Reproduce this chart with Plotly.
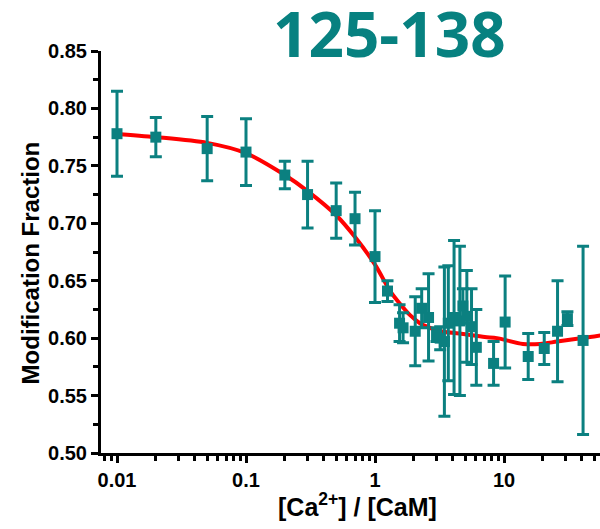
import plotly.graph_objects as go

# Data
ratio = [0.01, 0.02, 0.05, 0.1, 0.2, 0.3, 0.5, 0.7, 1.0, 1.25, 1.55, 1.65, 2.05, 2.3, 2.6,
         3.0, 3.2, 3.45, 3.7, 4.1, 4.55, 4.8, 5.15, 5.6, 6.1, 8.3, 10.2, 15.4, 20.5, 26, 31, 41]
frac = [0.778, 0.775, 0.765, 0.762, 0.742, 0.725, 0.711, 0.704, 0.671, 0.641, 0.613, 0.609,
        0.606, 0.626, 0.618, 0.603, 0.600, 0.597, 0.613, 0.618, 0.615, 0.628, 0.619, 0.610,
        0.592, 0.578, 0.614, 0.584, 0.591, 0.606, 0.617, 0.598]
err = [0.037, 0.017, 0.028, 0.029, 0.012, 0.029, 0.024, 0.023, 0.040, 0.009, 0.016, 0.013,
       0.030, 0.017, 0.038, 0.006, 0.010, 0.065, 0.050, 0.067, 0.065, 0.015, 0.040, 0.033,
       0.033, 0.019, 0.040, 0.020, 0.014, 0.044, 0.006, 0.082]

fit_x = [0.0093, 0.02, 0.05, 0.1, 0.2, 0.3, 0.5, 0.7, 1.0, 1.31, 1.56, 1.87, 2.23, 2.67,
         3.19, 4.5, 7.1, 8.8, 14.0, 19.0, 25.8, 46.4, 60]
fit_y = [0.778, 0.775, 0.770, 0.761, 0.742, 0.728, 0.707, 0.688, 0.664, 0.641, 0.630, 0.620,
         0.613, 0.609, 0.606, 0.604, 0.601, 0.600, 0.595, 0.595, 0.597, 0.601, 0.603]

y_ticks = [0.50, 0.55, 0.60, 0.65, 0.70, 0.75, 0.80, 0.85]
x_ticks = [0.01, 0.1, 1, 10]
x_ticktext = ["0.01", "0.1", "1", "10"]
x_minor = [0.008, 0.009] + [m * d for d in (0.01, 0.1, 1) for m in range(2, 10)] + [20, 30, 40, 50]

teal = "#0b8080"
title_teal = "#078180"
font_fam = "Liberation Sans, Arial, sans-serif"

fig = go.Figure()
fig.add_trace(go.Scatter(
    x=fit_x, y=fit_y, mode="lines",
    line=dict(color="#ff0000", width=4, shape="spline", smoothing=0.8),
    hoverinfo="skip", showlegend=False, cliponaxis=True,
))
fig.add_trace(go.Scatter(
    x=ratio, y=frac, mode="markers",
    marker=dict(symbol="square", size=11, color=teal),
    error_y=dict(type="data", array=err, visible=True, color=teal, thickness=3, width=6),
    showlegend=False, cliponaxis=False,
))

fig.update_layout(
    width=600, height=529,
    margin=dict(l=101, r=0, t=51, b=76),
    paper_bgcolor="white", plot_bgcolor="white",
    xaxis=dict(
        type="log", range=[-2.124, 1.744],
        tickmode="array", tickvals=x_ticks, ticktext=x_ticktext,
        ticks="outside", ticklen=7, tickwidth=2.5, tickcolor="black",
        showline=True, linewidth=3, linecolor="black",
        showgrid=False, zeroline=False,
        tickfont=dict(family=font_fam, size=20, color="black", weight="bold"),
        minor=dict(tickmode="array", tickvals=x_minor, ticks="outside",
                   ticklen=5, tickwidth=2.5, tickcolor="black", showgrid=False),
    ),
    yaxis=dict(
        range=[0.50, 0.85],
        tickmode="array", tickvals=y_ticks, tickformat=".2f",
        ticks="outside", ticklen=7, tickwidth=2.5, tickcolor="black",
        showline=True, linewidth=3, linecolor="black",
        showgrid=False, zeroline=False,
        tickfont=dict(family=font_fam, size=20, color="black", weight="bold"),
        minor=dict(dtick=0.025, tick0=0.5, ticks="outside", ticklen=5, tickwidth=2.5,
                   tickcolor="black", showgrid=False),
    ),
    annotations=[
        dict(text="125-138", xref="paper", yref="paper", x=0.579, y=1.045,
             xanchor="center", yanchor="middle", showarrow=False,
             font=dict(family="Open Sans, sans-serif", size=62, color=title_teal, weight="bold")),
        dict(text="Modification Fraction", xref="paper", yref="paper", x=-0.142, y=0.472,
             xanchor="center", yanchor="middle", textangle=-90, showarrow=False,
             font=dict(family=font_fam, size=24, color="black", weight="bold")),
        dict(text="[Ca<sup>2+</sup>] / [CaM]", xref="paper", yref="paper", x=0.515, y=-0.13,
             xanchor="center", yanchor="middle", showarrow=False,
             font=dict(family=font_fam, size=25, color="black", weight="bold")),
    ],
)

fig.write_html("out.html")
